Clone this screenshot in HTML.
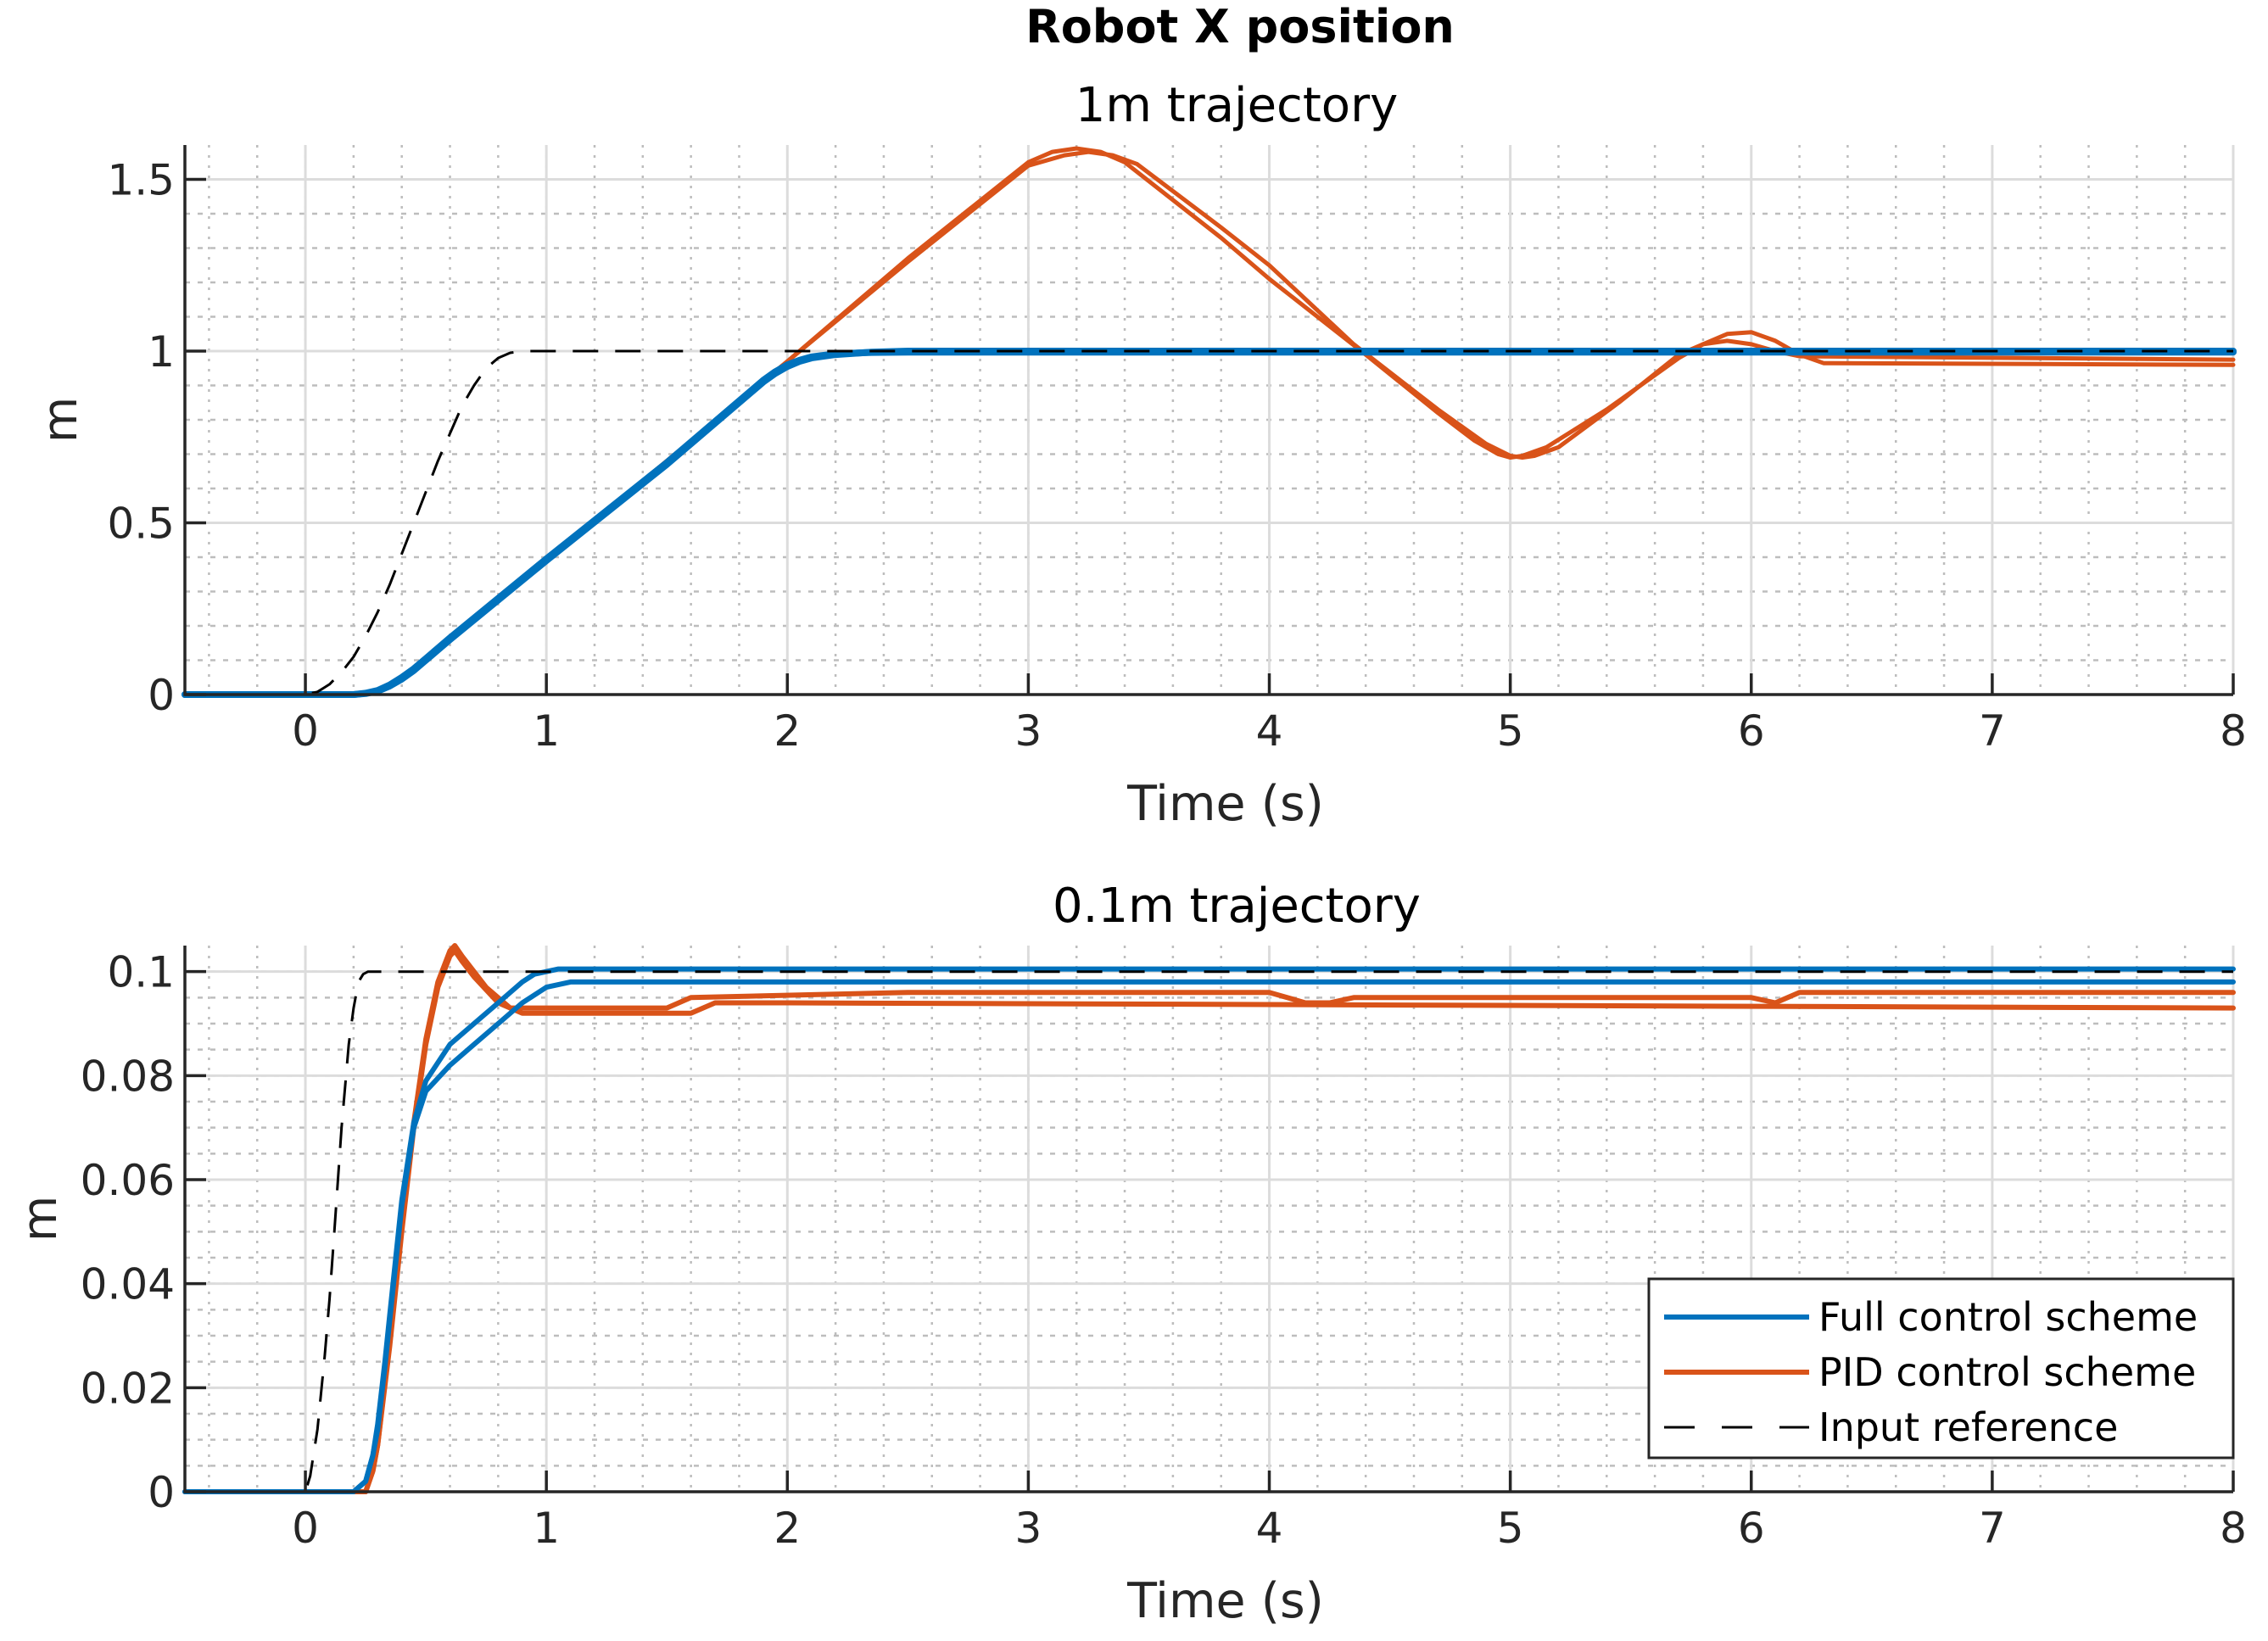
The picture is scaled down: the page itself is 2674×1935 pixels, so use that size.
<!DOCTYPE html>
<html><head><meta charset="utf-8">
<style>
html,body{margin:0;padding:0;background:#fff;}
svg{display:block;font-family:"DejaVu Sans","Liberation Sans",sans-serif;}
</style></head>
<body>
<svg id="chart" width="2674" height="1935" viewBox="0 0 2674 1935" xmlns="http://www.w3.org/2000/svg">
<rect width="2674" height="1935" fill="#fff"/>
<text x="1462" y="50" font-size="54" font-weight="bold" text-anchor="middle" fill="#000">Robot X position</text>
<g id="top"></g>
<g id="bot"></g>
</svg>
<script>
// ---- data: top plot (1m trajectory) ----
const topRefT = [-0.5,0,0.05,0.1,0.15,0.2,0.25,0.3,0.35,0.4,0.45,0.5,0.55,0.6,0.65,0.7,0.75,0.8,0.85,0.9,8];
const topRefY = [0,0,0.008,0.03,0.065,0.11,0.17,0.24,0.32,0.41,0.5,0.59,0.68,0.76,0.84,0.9,0.95,0.98,0.995,1,1];
const topFullAT = [-0.5,0.2,0.25,0.3,0.35,0.4,0.45,0.5,0.6,1,1.5,1.9,1.95,2.0,2.05,2.1,2.2,2.35,2.5,8];
const topFullAY = [0,0,0.003,0.01,0.025,0.045,0.07,0.1,0.16,0.39,0.67,0.91,0.935,0.955,0.97,0.98,0.99,0.997,1.0,1.0];
const topFullBT = [-0.5,0.2,0.25,0.3,0.35,0.4,0.45,0.5,0.6,1,1.5,1.9,1.95,2.0,2.05,2.1,2.2,2.35,2.5,8];
const topFullBY = [0,0,0.004,0.012,0.028,0.05,0.075,0.105,0.165,0.395,0.675,0.915,0.94,0.96,0.973,0.983,0.992,0.996,0.997,0.997];
const topPidAT = [-0.5,0.2,0.3,0.4,0.5,0.6,1,1.5,2,2.5,3,3.1,3.2,3.3,3.4,3.8,4,4.4,4.7,4.85,4.95,5.0,5.05,5.15,5.4,5.7,5.8,5.9,6.0,6.1,6.2,6.3,8];
const topPidAY = [0,0,0.01,0.045,0.1,0.16,0.39,0.68,0.97,1.27,1.55,1.58,1.59,1.58,1.55,1.33,1.21,0.99,0.82,0.74,0.70,0.69,0.695,0.72,0.83,0.98,1.02,1.05,1.055,1.03,0.99,0.965,0.96];
const topPidBT = [-0.5,0.2,0.3,0.4,0.5,0.6,1,1.5,2,2.5,3,3.15,3.25,3.35,3.45,3.8,4,4.35,4.7,4.9,5.0,5.05,5.1,5.2,5.45,5.7,5.8,5.9,6.0,6.1,6.2,8];
const topPidBY = [0,0,0.01,0.045,0.1,0.16,0.39,0.68,0.97,1.26,1.54,1.57,1.58,1.57,1.545,1.36,1.25,1.02,0.83,0.73,0.695,0.69,0.695,0.72,0.85,0.99,1.02,1.03,1.02,1.0,0.985,0.975];
// ---- data: bottom plot (0.1m trajectory) ----
const botRefT = [-0.5,0,0.02,0.05,0.08,0.1,0.12,0.15,0.18,0.2,0.22,0.24,0.26,8];
const botRefY = [0,0,0.003,0.012,0.026,0.037,0.05,0.07,0.086,0.093,0.098,0.0995,0.1,0.1];
const botFullAT = [-0.5,0.2,0.25,0.28,0.3,0.33,0.35,0.4,0.45,0.5,0.6,0.7,0.8,0.9,1.0,1.1,8];
const botFullAY = [0,0,0.002,0.007,0.012,0.024,0.033,0.055,0.07,0.077,0.082,0.086,0.09,0.094,0.097,0.098,0.098];
const botFullBT = [-0.5,0.2,0.25,0.28,0.3,0.33,0.35,0.4,0.45,0.5,0.6,0.7,0.8,0.9,0.95,1.05,8];
const botFullBY = [0,0,0.002,0.007,0.013,0.025,0.034,0.056,0.071,0.079,0.086,0.09,0.094,0.098,0.0995,0.1005,0.1005];
const botPidAT = [-0.5,0.25,0.28,0.3,0.35,0.4,0.45,0.5,0.55,0.6,0.62,0.65,0.7,0.8,0.9,1,1.6,1.7,2,8];
const botPidAY = [0,0,0.004,0.009,0.028,0.05,0.07,0.086,0.097,0.103,0.104,0.102,0.099,0.094,0.092,0.092,0.092,0.094,0.094,0.093];
const botPidBT = [-0.5,0.25,0.28,0.3,0.35,0.4,0.45,0.5,0.55,0.6,0.62,0.65,0.75,0.85,1.5,1.6,2.5,4,4.15,4.25,4.35,6,6.1,6.2,8];
const botPidBY = [0,0,0.004,0.009,0.029,0.051,0.071,0.087,0.098,0.104,0.105,0.103,0.097,0.093,0.093,0.095,0.096,0.096,0.094,0.094,0.095,0.095,0.094,0.096,0.096];
const topYTicks = [0,0.5,1,1.5];
const topYLabels = ["0","0.5","1","1.5"];
const botYTicks = [0,0.02,0.04,0.06,0.08,0.1];
const botYLabels = ["0","0.02","0.04","0.06","0.08","0.1"];
const xTicks = [0,1,2,3,4,5,6,7,8];

const NS = "http://www.w3.org/2000/svg";
function mk(tag, attrs, parent){const e=document.createElementNS(NS,tag);for(const k in attrs)e.setAttribute(k,attrs[k]);parent.appendChild(e);return e;}

function axes(g, cfg){
  const L=218,R=2633,T=cfg.top,B=cfg.bottom;
  const sx=t=>L+(t+0.5)/8.5*(R-L);
  const sy=v=>B-(v-cfg.ymin)/(cfg.ymax-cfg.ymin)*(B-T);
  for(let t=-0.4;t<8;t+=0.2){const x=sx(t);
    const l=mk('line',{x1:x,x2:x,y1:T,y2:B,stroke:'#bdbdbd','stroke-width':2.5,'stroke-dasharray':'3 9'},g);
    
    }
  for(let v=cfg.ymin+cfg.minor;v<cfg.ymax-1e-9;v+=cfg.minor){const y=sy(v);
    const l=mk('line',{x1:L,x2:R,y1:y,y2:y,stroke:'#bdbdbd','stroke-width':2.5,'stroke-dasharray':'6 9'},g);
    
    }
  xTicks.forEach(t=>{const x=sx(t);
    const l=mk('line',{x1:x,x2:x,y1:T,y2:B,stroke:'#dcdcdc','stroke-width':3},g);
    
    });
  cfg.yt.forEach(v=>{const y=sy(v);
    const l=mk('line',{x1:L,x2:R,y1:y,y2:y,stroke:'#dcdcdc','stroke-width':3},g);
    
    });
  const line=(T_,Y_,color,w,name,dash)=>{
    const d=T_.map((t,i)=>(i?'L':'M')+sx(t).toFixed(1)+' '+sy(Y_[i]).toFixed(1)).join(' ');
    const p=mk('path',{d:d,fill:'none',stroke:color,'stroke-width':w,'stroke-linejoin':'round','stroke-linecap':'round'},g);
    if(dash){p.setAttribute('stroke-dasharray',dash);p.setAttribute('stroke-linecap','butt');}
    
    };
  cfg.series.forEach(s=>line(s[0],s[1],s[2],s[3],s[4],s[5]));
  const ax=mk('path',{d:`M${L} ${T} L${L} ${B} L${R} ${B}`,fill:'none',stroke:'#262626','stroke-width':3.5},g);
  
  
  xTicks.forEach(t=>{const x=sx(t);
    mk('line',{x1:x,x2:x,y1:B,y2:B-25,stroke:'#262626','stroke-width':3.5},g);
    const tx=mk('text',{x:x,y:B+60,'font-size':50,'text-anchor':'middle',fill:'#262626'},g);
    tx.textContent=String(t);
    
    });
  cfg.yt.forEach((v,i)=>{const y=sy(v);
    mk('line',{x1:L,x2:L+25,y1:y,y2:y,stroke:'#262626','stroke-width':3.5},g);
    const tx=mk('text',{x:L-12,y:y+18,'font-size':50,'text-anchor':'end',fill:'#262626'},g);
    tx.textContent=cfg.yl[i];
    
    });
  const st=mk('text',{x:1458,y:T-28,'font-size':56,'text-anchor':'middle',fill:'#000'},g);
  st.textContent=cfg.title;
  
  
  const xl=mk('text',{x:1445,y:B+148,'font-size':57,'text-anchor':'middle',fill:'#262626'},g);
  xl.textContent='Time (s)';
  
  
  const yl=mk('text',{x:0,y:0,'font-size':56,'text-anchor':'middle',fill:'#262626',transform:`translate(${cfg.ylx},${(T+B)/2}) rotate(-90)`},g);
  yl.textContent='m';
  
  
}
const BLUE='#0072BD', ORANGE='#D95319';
axes(document.getElementById('top'),{top:171,bottom:819,ymin:0,ymax:1.6,minor:0.1,yt:topYTicks,yl:topYLabels,title:'1m trajectory',ylx:90,
  series:[[topPidAT,topPidAY,ORANGE,5,'pid-run-1'],[topPidBT,topPidBY,ORANGE,5,'pid-run-2'],
          [topFullAT,topFullAY,BLUE,8,'full-run-1'],[topFullBT,topFullBY,BLUE,8,'full-run-2'],
          [topRefT,topRefY,'#000',3,'input-reference','30 20']]});
axes(document.getElementById('bot'),{top:1115,bottom:1759,ymin:0,ymax:0.105,minor:0.005,yt:botYTicks,yl:botYLabels,title:'0.1m trajectory',ylx:66,
  series:[[botPidAT,botPidAY,ORANGE,6,'pid-run-1'],[botPidBT,botPidBY,ORANGE,6,'pid-run-2'],
          [botFullAT,botFullAY,BLUE,6,'full-run-1'],[botFullBT,botFullBY,BLUE,6,'full-run-2'],
          [botRefT,botRefY,'#000',3,'input-reference','30 20']]});
const svg=document.getElementById('chart');
const lg=mk('g',{},svg);


mk('rect',{x:1944,y:1508,width:689,height:211,fill:'#fff',stroke:'#262626','stroke-width':3},lg);
const entries=[['Full control scheme',BLUE,null],['PID control scheme',ORANGE,null],['Input reference','#000','36 32']];
entries.forEach((e,i)=>{const y=1553+i*65;
  const l=mk('line',{x1:1962,x2:2133,y1:y,y2:y,stroke:e[1],'stroke-width':e[2]?3:6},lg);
  if(e[2])l.setAttribute('stroke-dasharray',e[2]);
  const t=mk('text',{x:2144,y:y+16,'font-size':46,fill:'#000'},lg);
  t.textContent=e[0];
  
  });
</script>
</body></html>
